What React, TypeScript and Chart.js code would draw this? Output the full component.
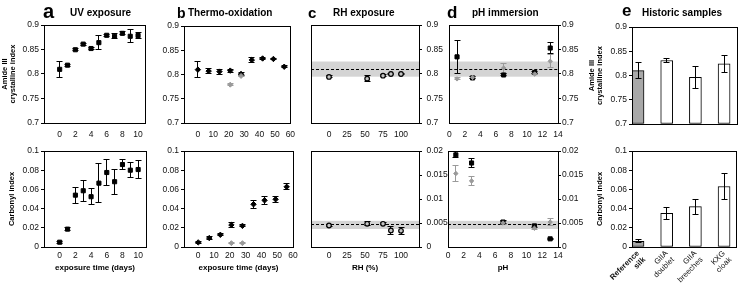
import React, { useEffect, useRef } from 'react';
import { Chart, registerables } from 'chart.js';

Chart.register(...registerables);

const FONT = '"Liberation Sans", Arial, Helvetica, sans-serif';

// ---------------- data ----------------
const uvDays = [0, 1, 2, 3, 4, 5, 6, 7, 8, 9, 10];
const uvAmide = [0.8095, 0.818, 0.8495, 0.861, 0.852, 0.864, 0.879, 0.877, 0.883, 0.877, 0.8785];
const uvAmideErr = [0.016, 0.002, 0.002, 0.002, 0.002, 0.0145, 0.002, 0.005, 0.003, 0.0135, 0.006];
const uvCarbonyl = [0.005, 0.0186, 0.054, 0.0586, 0.0524, 0.0665, 0.0776, 0.068, 0.0859, 0.08, 0.0807];
const uvCarbonylErr = [0.001, 0.0015, 0.0085, 0.011, 0.0083, 0.02, 0.014, 0.013, 0.0055, 0.008, 0.009];

const thermoDays = [0, 7, 14, 21, 28, 35, 42, 49, 56];
const thermoAmide = [0.81, 0.807, 0.806, 0.808, 0.801, 0.83, 0.833, 0.832, 0.816];
const thermoAmideErr = [0.017, 0.005, 0.005, 0.003, 0.003, 0.006, 0.002, 0.002, 0.002];
const thermoGrayDays = [21, 28];
const thermoAmideGray = [0.779, 0.797];
const thermoAmideGrayErr = [0.002, 0.002];
const thermoCarbonyl = [0.0048, 0.0093, 0.0127, 0.023, 0.022, 0.0445, 0.0486, 0.0497, 0.0627];
const thermoCarbonylErr = [0.0008, 0.002, 0.0012, 0.0025, 0.001, 0.004, 0.004, 0.003, 0.003];
const thermoCarbonylGray = [0.004, 0.004];
const thermoCarbonylGrayErr = [0.0005, 0.0005];

const rhLevels = [0, 53, 75, 86, 100];
const rhAmide = [0.794, 0.7905, 0.7965, 0.8, 0.8];
const rhAmideErr = [0.002, 0.006, 0.002, 0.002, 0.002];
const rhCarbonyl = [0.00448, 0.00483, 0.00483, 0.00345, 0.00338];
const rhCarbonylErr = [0.0002, 0.0004, 0.0002, 0.0008, 0.0007];

const phLevels = [1, 3, 7, 11, 13];
const phAmideBlack = [0.835, 0.792, 0.798, 0.803, 0.853];
const phAmideBlackErr = [0.034, 0.002, 0.002, 0.002, 0.011];
const phAmideGray = [0.79, 0.793, 0.812, 0.8, 0.826];
const phAmideGrayErr = [0.002, 0.002, 0.01, 0.002, 0.013];
const phCarbonylBlack = [0.0192, 0.0175, 0.0052, 0.0044, 0.0017];
const phCarbonylBlackErr = [0.0006, 0.001, 0.0003, 0.0003, 0.0001];
const phCarbonylGray = [0.0153, 0.01375, 0.005, 0.0039, 0.0052];
const phCarbonylGrayErr = [0.0017, 0.0009, 0.0003, 0.0003, 0.0007];

const refAmide = 0.81;
const refAmideSd = 0.0155;
const refCarbonyl = 0.0046;
const refCarbonylSd = 0.00085;

const historicSamples = [['Reference', 'silk'], ['GIIA', 'doublet'], ['GIIA', 'breeches'], ['KXG', 'cloak']];
const historicAmide = [0.81, 0.831, 0.796, 0.824];
const historicAmideErr = [0.016, 0.004, 0.023, 0.017];
const historicCarbonyl = [0.006, 0.035, 0.042, 0.063];
const historicCarbonylErr = [0.0015, 0.0065, 0.008, 0.014];

const amideTicks = [0.7, 0.75, 0.8, 0.85, 0.9];
const carbonylTicks = [0, 0.02, 0.04, 0.06, 0.08, 0.1];
const carbonylSmallTicks = [0, 0.005, 0.01, 0.015, 0.02];
const uvTicks = [0, 2, 4, 6, 8, 10];
const thermoTicks = [0, 10, 20, 30, 40, 50, 60];
const rhTicks = [0, 25, 50, 75, 100];
const phTicks = [0, 2, 4, 6, 8, 10, 12, 14];
const historicTicks = [0, 1, 2, 3];

// ---------------- helpers ----------------
const BLACK = '#000000';
const GRAY = '#9a9a9a';

const fmt = (v: number) => String(parseFloat(Number(v).toFixed(4)));

function pts(xs: number[], ys: number[]) {
  return xs.map((x, i) => ({ x, y: ys[i] }));
}

function series(xs: number[], ys: number[], errs: number[], style: string, radius: number, fill: string, stroke: string, errColor: string, bw = 1) {
  return {
    data: pts(xs, ys),
    errors: errs,
    errorColor: errColor,
    pointStyle: style,
    pointRadius: radius,
    pointBackgroundColor: fill,
    pointBorderColor: stroke,
    pointBorderWidth: bw,
    pointHoverRadius: radius,
  };
}

const align = (v: number) => Math.round(v - 0.5) + 0.5;

const decorPlugin = {
  id: 'panelDecor',
  beforeDatasetsDraw(chart: any, _a: any, opts: any) {
    const ctx = chart.ctx;
    const { left, right, top, bottom } = chart.chartArea;
    const ys = chart.scales.y;
    if (opts.band) {
      const [m, sd] = opts.band;
      const y1 = ys.getPixelForValue(m + sd);
      const y2 = ys.getPixelForValue(m - sd);
      ctx.save();
      ctx.fillStyle = '#d4d4d4';
      ctx.fillRect(left, y1, right - left, y2 - y1);
      ctx.strokeStyle = '#000';
      ctx.lineWidth = 1;
      ctx.setLineDash([3, 2]);
      const ym = align(ys.getPixelForValue(m));
      ctx.beginPath();
      ctx.moveTo(left, ym);
      ctx.lineTo(right, ym);
      ctx.stroke();
      ctx.restore();
    }
    if (!opts.errorsOnTop) drawErrors(chart, left, right, top, bottom);
  },
  afterDatasetsDraw(chart: any, _a: any, opts: any) {
    const { left, right, top, bottom } = chart.chartArea;
    if (opts.errorsOnTop) drawErrors(chart, left, right, top, bottom);
  },
  afterDraw(chart: any) {
    const ctx = chart.ctx;
    const { left, right, top, bottom } = chart.chartArea;
    ctx.save();
    ctx.strokeStyle = '#000';
    ctx.lineWidth = 1;
    const l = align(left), r = align(right), t = align(top), b = align(bottom);
    ctx.strokeRect(l, t, r - l, b - t);
    ctx.restore();
  },
};

function drawErrors(chart: any, left: number, right: number, top: number, bottom: number) {
  const ctx = chart.ctx;
  const ys = chart.scales.y;
  ctx.save();
  ctx.beginPath();
  ctx.rect(left, top - 1, right - left, bottom - top + 2);
  ctx.clip();
  chart.data.datasets.forEach((ds: any, di: number) => {
    if (!ds.errors) return;
    const meta = chart.getDatasetMeta(di);
    meta.data.forEach((el: any, i: number) => {
      const e = ds.errors[i];
      if (!e) return;
      const v = ds.data[i].y;
      const x = align(el.x);
      const yt = align(ys.getPixelForValue(v + e));
      const yb = align(ys.getPixelForValue(v - e));
      ctx.strokeStyle = ds.errorColor || '#000';
      ctx.lineWidth = 1;
      ctx.beginPath();
      ctx.moveTo(x, yt);
      ctx.lineTo(x, yb);
      ctx.moveTo(x - 3, yt);
      ctx.lineTo(x + 3, yt);
      ctx.moveTo(x - 3, yb);
      ctx.lineTo(x + 3, yb);
      ctx.stroke();
    });
  });
  ctx.restore();
}

type Spec = {
  rect: [number, number, number, number];
  plot: [number, number, number, number];
  yPos: 'left' | 'right';
  xRange: [number, number];
  xTicks: number[];
  xLabel?: (v: number) => any;
  showX: boolean;
  xPad: number;
  xRot?: number;
  xFont?: any;
  yRange: [number, number];
  yTicks: number[];
  yPad: number;
  yTitle?: string | string[];
  yTitlePad?: number;
  xTitle?: string;
  xTitlePad?: number;
  band?: [number, number];
  datasets: any[];
  bar?: boolean;
};

function buildConfig(s: Spec): any {
  const [rx, ry, rw, rh] = s.rect;
  const [pl, pt, pr, pb] = s.plot;
  const yAxisWidth = s.yPos === 'left' ? pl - rx : rx + rw - pr;
  const xAxisHeight = ry + rh - pb;
  const padding = {
    top: pt - ry,
    bottom: 0,
    left: s.yPos === 'left' ? 0 : pl - rx,
    right: s.yPos === 'left' ? rx + rw - pr : 0,
  };
  return {
    type: s.bar ? 'bar' : 'scatter',
    data: { datasets: s.datasets },
    plugins: [decorPlugin],
    options: {
      responsive: false,
      animation: false,
      devicePixelRatio: 1,
      events: [],
      layout: { padding },
      plugins: {
        legend: { display: false },
        tooltip: { enabled: false },
        title: { display: false },
        panelDecor: { band: s.band, errorsOnTop: !!s.bar },
      },
      scales: {
        x: {
          type: 'linear',
          position: 'bottom',
          min: s.xRange[0],
          max: s.xRange[1],
          offset: false,
          afterBuildTicks: (sc: any) => {
            sc.ticks = s.xTicks.map((v) => ({ value: v }));
          },
          afterFit: (sc: any) => {
            sc.height = xAxisHeight;
          },
          grid: { display: false, drawTicks: false, drawOnChartArea: false },
          border: { display: true, color: '#000', width: 1 },
          ticks: {
            display: s.showX,
            autoSkip: false,
            minRotation: s.xRot || 0,
            maxRotation: s.xRot || 0,
            padding: s.xPad,
            color: '#111',
            font: s.xFont || { family: FONT, size: 8.5 },
            callback: s.xLabel || ((v: number) => fmt(v)),
          },
          title: s.xTitle
            ? {
                display: true,
                text: s.xTitle,
                color: '#000',
                font: { family: FONT, size: 8, weight: 'bold', lineHeight: 1.2 },
                padding: { top: 0, bottom: s.xTitlePad ?? 10 },
              }
            : { display: false },
        },
        y: {
          type: 'linear',
          position: s.yPos,
          min: s.yRange[0],
          max: s.yRange[1],
          afterBuildTicks: (sc: any) => {
            sc.ticks = s.yTicks.map((v) => ({ value: v }));
          },
          afterFit: (sc: any) => {
            sc.width = yAxisWidth;
          },
          grid: { display: true, drawOnChartArea: false, drawTicks: true, tickLength: 3, color: '#000' },
          border: { display: true, color: '#000', width: 1 },
          ticks: {
            padding: s.yPad,
            color: '#111',
            font: { family: FONT, size: 8.5 },
            callback: (v: number) => fmt(v),
          },
          title: s.yTitle
            ? {
                display: true,
                text: s.yTitle,
                color: '#000',
                font: { family: FONT, size: 7.5, weight: 'bold', lineHeight: 1 },
                padding: { top: s.yTitlePad ?? 2, bottom: 0 },
              }
            : { display: false },
        },
      },
    },
  };
}

const historicFill = ['#a8a8a8', '#ffffff', '#ffffff', '#ffffff'];

function barSet(vals: number[], errs: number[], base: number) {
  return {
    data: pts(historicTicks, vals),
    errors: errs,
    errorColor: '#000',
    backgroundColor: historicFill,
    borderColor: '#000',
    borderWidth: 1,
    borderSkipped: false,
    barThickness: 12,
    base,
  };
}

const amideTitle = ['Amide III', 'crystalline index'];
const topH = 140;
const botY = 140;
const botH = 143;

const specs: Spec[] = [
  // a top
  {
    rect: [0, 0, 150, topH], plot: [44, 25, 146, 123], yPos: 'left',
    xRange: [-2, 11], xTicks: uvTicks, showX: true, xPad: 6.9,
    yRange: [0.7, 0.9], yTicks: amideTicks, yPad: 2, yTitle: amideTitle, yTitlePad: 1.5,
    datasets: [series(uvDays, uvAmide, uvAmideErr, 'rect', 2.9, BLACK, BLACK, BLACK)],
  },
  // a bottom
  {
    rect: [0, botY, 150, botH], plot: [44, 151, 146, 247], yPos: 'left',
    xRange: [-2, 11], xTicks: uvTicks, showX: true, xPad: 3.9,
    yRange: [0, 0.1], yTicks: carbonylTicks, yPad: 2, yTitle: 'Carbonyl index', yTitlePad: 8.2,
    xTitle: 'exposure time (days)', xTitlePad: 10.5,
    datasets: [series(uvDays, uvCarbonyl, uvCarbonylErr, 'rect', 2.9, BLACK, BLACK, BLACK)],
  },
  // b top
  {
    rect: [150, 0, 152, topH], plot: [184, 26, 293, 123], yPos: 'left',
    xRange: [-9, 60], xTicks: thermoTicks, showX: true, xPad: 6.9,
    yRange: [0.7, 0.9], yTicks: amideTicks, yPad: 2,
    datasets: [
      series(thermoGrayDays, thermoAmideGray, thermoAmideGrayErr, 'rectRot', 2.5, GRAY, GRAY, GRAY),
      series(thermoDays, thermoAmide, thermoAmideErr, 'rectRot', 2.7, BLACK, BLACK, BLACK),
    ],
  },
  // b bottom
  {
    rect: [150, botY, 152, botH], plot: [184, 151, 293, 247], yPos: 'left',
    xRange: [-9, 60], xTicks: thermoTicks, showX: true, xPad: 3.9,
    yRange: [0, 0.1], yTicks: carbonylTicks, yPad: 2,
    xTitle: 'exposure time (days)', xTitlePad: 10.5,
    datasets: [
      series(thermoGrayDays, thermoCarbonylGray, thermoCarbonylGrayErr, 'rectRot', 2.5, GRAY, GRAY, GRAY),
      series(thermoDays, thermoCarbonyl, thermoCarbonylErr, 'rectRot', 2.7, BLACK, BLACK, BLACK),
    ],
  },
  // c top
  {
    rect: [300, 0, 155, topH], plot: [311, 25, 419, 123], yPos: 'right',
    xRange: [-25, 125], xTicks: rhTicks, showX: true, xPad: 6.9,
    yRange: [0.7, 0.9], yTicks: amideTicks, yPad: 4.5,
    band: [refAmide, refAmideSd],
    datasets: [series(rhLevels, rhAmide, rhAmideErr, 'circle', 2.3, '#c4c4c4', BLACK, BLACK, 1.2)],
  },
  // c bottom
  {
    rect: [300, botY, 155, botH], plot: [311, 151, 419, 247], yPos: 'right',
    xRange: [-25, 125], xTicks: rhTicks, showX: true, xPad: 3.9,
    yRange: [0, 0.02], yTicks: carbonylSmallTicks, yPad: 4.5,
    band: [refCarbonyl, refCarbonylSd],
    xTitle: 'RH (%)', xTitlePad: 10.5,
    datasets: [series(rhLevels, rhCarbonyl, rhCarbonylErr, 'circle', 2.3, '#c4c4c4', BLACK, BLACK, 1.2)],
  },
  // d top
  {
    rect: [440, 0, 150, topH], plot: [448, 25, 558, 123], yPos: 'right',
    xRange: [0, 14], xTicks: phTicks, showX: true, xPad: 6.9,
    yRange: [0.7, 0.9], yTicks: amideTicks, yPad: 1,
    band: [refAmide, refAmideSd],
    datasets: [
      series(phLevels, phAmideGray, phAmideGrayErr, 'rectRot', 2.2, GRAY, GRAY, GRAY),
      series(phLevels, phAmideBlack, phAmideBlackErr, 'rect', 2.9, BLACK, BLACK, BLACK),
    ],
  },
  // d bottom
  {
    rect: [440, botY, 150, botH], plot: [448, 151, 558, 247], yPos: 'right',
    xRange: [0, 14], xTicks: phTicks, showX: true, xPad: 3.9,
    yRange: [0, 0.02], yTicks: carbonylSmallTicks, yPad: 1,
    band: [refCarbonyl, refCarbonylSd],
    xTitle: 'pH', xTitlePad: 10.5,
    datasets: [
      series(phLevels, phCarbonylGray, phCarbonylGrayErr, 'rectRot', 2.2, GRAY, GRAY, GRAY),
      series(phLevels, phCarbonylBlack, phCarbonylBlackErr, 'rect', 2.9, BLACK, BLACK, BLACK),
    ],
  },
  // e top
  {
    rect: [583, 0, 156, topH], plot: [632, 27, 737, 124], yPos: 'left',
    xRange: [-0.21, 3.45], xTicks: historicTicks, showX: false, xPad: 4,
    yRange: [0.7, 0.9], yTicks: amideTicks, yPad: 2, yTitle: amideTitle, yTitlePad: 5.2,
    bar: true,
    datasets: [barSet(historicAmide, historicAmideErr, 0.7)],
  },
  // e bottom
  {
    rect: [583, botY, 156, botH], plot: [632, 151, 737, 247], yPos: 'left',
    xRange: [-0.21, 3.45], xTicks: historicTicks, showX: true, xPad: 2, xRot: 45,
    xLabel: (v: number) => historicSamples[v] || '',
    xFont: (ctx: any) => ({ family: FONT, size: 7.8, weight: ctx.index === 0 ? 'bold' : 'normal', lineHeight: 1.15 }),
    yRange: [0, 0.1], yTicks: carbonylTicks, yPad: 2, yTitle: 'Carbonyl index', yTitlePad: 13.2,
    bar: true,
    datasets: [barSet(historicCarbonyl, historicCarbonylErr, 0)],
  },
];

const headings = [
  { text: 'a', x: 43, base: 18.3, size: 20 },
  { text: 'UV exposure', x: 70, base: 16, size: 10 },
  { text: 'b', x: 177, base: 18.3, size: 14 },
  { text: 'Thermo-oxidation', x: 188, base: 16, size: 10 },
  { text: 'c', x: 308, base: 17.5, size: 15 },
  { text: 'RH exposure', x: 333, base: 16, size: 10 },
  { text: 'd', x: 447, base: 18.3, size: 17 },
  { text: 'pH immersion', x: 472, base: 16, size: 10 },
  { text: 'e', x: 622, base: 16, size: 17 },
  { text: 'Historic samples', x: 642, base: 16, size: 10 },
];

function Panel({ spec }: { spec: Spec }) {
  const ref = useRef<HTMLCanvasElement>(null);
  useEffect(() => {
    if (!ref.current) return;
    const chart = new Chart(ref.current, buildConfig(spec));
    return () => chart.destroy();
  }, [spec]);
  const [x, y, w, h] = spec.rect;
  return (
    <canvas
      ref={ref}
      width={w}
      height={h}
      style={{ position: 'absolute', left: x, top: y, width: w, height: h }}
    />
  );
}

export default function App() {
  return (
    <div
      style={{
        position: 'absolute',
        left: 0,
        top: 0,
        width: 739,
        height: 283,
        background: '#ffffff',
        overflow: 'hidden',
        fontFamily: FONT,
      }}
    >
      {specs.map((s, i) => (
        <Panel key={i} spec={s} />
      ))}
      {headings.map((h, i) => (
        <div
          key={'h' + i}
          style={{
            position: 'absolute',
            left: h.x,
            top: h.base - 0.8465 * h.size,
            fontSize: h.size,
            lineHeight: `${h.size}px`,
            fontWeight: 'bold',
            whiteSpace: 'nowrap',
            color: '#000',
          }}
        >
          {h.text}
        </div>
      ))}
    </div>
  );
}
